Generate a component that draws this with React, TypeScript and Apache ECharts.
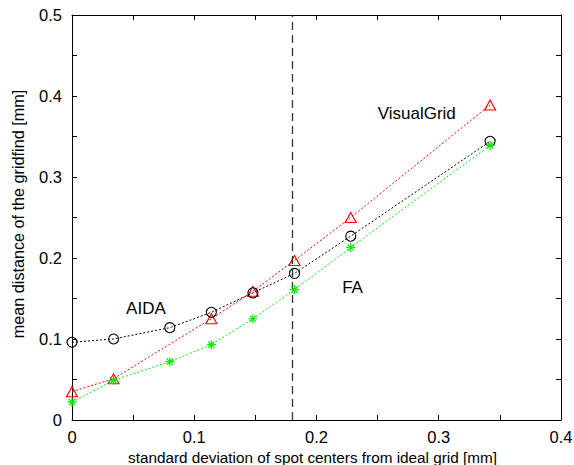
import React, { useEffect, useRef } from "react";
import * as echarts from "echarts";

const aidaX = [0, 0.034, 0.08, 0.114, 0.148, 0.182, 0.228, 0.342];
const aidaY = [0.096, 0.1, 0.114, 0.133, 0.157, 0.181, 0.227, 0.344];
const vgX = [0, 0.034, 0.114, 0.148, 0.182, 0.228, 0.342];
const vgY = [0.035, 0.051, 0.125, 0.159, 0.197, 0.25, 0.389];
const faX = [0, 0.034, 0.08, 0.114, 0.148, 0.182, 0.228, 0.342];
const faY = [0.022, 0.049, 0.072, 0.093, 0.125, 0.161, 0.213, 0.339];
const thresholdX = 0.182;
const xTickLabels = ["0", "0.1", "0.2", "0.3", "0.4"];
const yTickLabels = ["0", "0.1", "0.2", "0.3", "0.4", "0.5"];
const labels = [
  { text: "AIDA", x: 0.0605, y: 0.138 },
  { text: "VisualGrid", x: 0.282, y: 0.378 },
  { text: "FA", x: 0.2295, y: 0.163 },
];
const xTitle = "standard deviation of spot centers from ideal grid [mm]";
const yTitle = "mean distance of the gridfind [mm]";

const FONT = "'Liberation Sans', Arial, Helvetica, sans-serif";
const ASTERISK = "path://M5,0V10M0,5H10M1.5,1.5L8.5,8.5M1.5,8.5L8.5,1.5";

function zip(xs: number[], ys: number[]) {
  return xs.map((x, i) => [x, ys[i]]);
}

export default function App() {
  const ref = useRef<HTMLDivElement>(null);
  useEffect(() => {
    if (!ref.current) return;
    const chart = echarts.init(ref.current, undefined, { renderer: "svg" });
    const fmt = (list: string[]) => (v: number) => {
      const s = String(Math.round(v * 100) / 100);
      return list.includes(s) ? s : "";
    };
    const axisCommon = {
      axisLine: { show: true, onZero: false, lineStyle: { color: "#000", width: 1 } },
      axisTick: { show: true, inside: true, length: 5, lineStyle: { color: "#000" } },
      splitLine: { show: false },
    };
    chart.setOption({
      animation: false,
      backgroundColor: "#fff",
      textStyle: { fontFamily: FONT },
      grid: [{ left: 72, right: 13, top: 15, bottom: 45, containLabel: false, outerBoundsMode: "none" }],
      graphic: [
        {
          type: "text",
          x: 18,
          y: 214,
          rotation: Math.PI / 2,
          style: {
            text: yTitle,
            fill: "#000",
            font: `16.2px ${FONT}`,
            textAlign: "center",
            textVerticalAlign: "middle",
          },
        },
      ],
      xAxis: [
        {
          type: "value",
          min: 0,
          max: 0.4,
          interval: 0.05,
          position: "bottom",
          ...axisCommon,
          axisLabel: {
            formatter: fmt(xTickLabels),
            color: "#000",
            fontSize: 16.5,
            fontFamily: FONT,
            margin: 8,
            showMaxLabel: true,
          },
          name: xTitle,
          nameLocation: "middle",
          nameGap: 29,
          nameTextStyle: { color: "#000", fontSize: 15.3, fontFamily: FONT, padding: [0, 0, 0, -8] },
        },
        {
          type: "value",
          min: 0,
          max: 0.4,
          interval: 0.05,
          position: "top",
          ...axisCommon,
          axisLabel: { show: false },
        },
      ],
      yAxis: [
        {
          type: "value",
          min: 0,
          max: 0.5,
          interval: 0.05,
          position: "left",
          ...axisCommon,
          axisLabel: {
            formatter: fmt(yTickLabels),
            color: "#000",
            fontSize: 16.5,
            fontFamily: FONT,
            margin: 10,
          },
        },
        {
          type: "value",
          min: 0,
          max: 0.5,
          interval: 0.05,
          position: "right",
          ...axisCommon,
          axisLabel: { show: false },
        },
      ],
      series: [
        {
          name: "VisualGrid",
          type: "line",
          data: zip(vgX, vgY),
          symbol: "triangle",
          symbolSize: [11, 10],
          lineStyle: { color: "#ff0000", width: 1, type: [2, 2] },
          itemStyle: { color: "rgba(0,0,0,0)", borderColor: "#ff0000", borderWidth: 1.1 },
          z: 3,
        },
        {
          name: "AIDA",
          type: "line",
          data: zip(aidaX, aidaY),
          symbol: "circle",
          symbolSize: 10,
          lineStyle: { color: "#000", width: 1, type: [2, 2] },
          itemStyle: { color: "rgba(0,0,0,0)", borderColor: "#000", borderWidth: 1.1 },
          z: 4,
          markLine: {
            silent: true,
            symbol: "none",
            label: { show: false },
            lineStyle: { color: "#333", width: 1.3, type: [8, 5] },
            data: [{ xAxis: thresholdX }],
          },
        },
        {
          name: "FA",
          type: "line",
          data: zip(faX, faY),
          symbol: ASTERISK,
          symbolSize: 9,
          lineStyle: { color: "#00ee00", width: 1, type: [2, 2] },
          itemStyle: { color: "rgba(0,0,0,0)", borderColor: "#00ee00", borderWidth: 1.2 },
          z: 5,
        },
        {
          name: "labels",
          type: "scatter",
          data: labels.map((l) => ({ value: [l.x, l.y], name: l.text })),
          symbolSize: 0,
          itemStyle: { color: "#000", opacity: 1 },
          label: {
            show: true,
            position: "inside",
            formatter: (p: any) => p.name,
            color: "#000",
            fontSize: 17,
            fontFamily: FONT,
            textBorderWidth: 0,
            opacity: 1,
          },
          silent: true,
          z: 6,
        },
      ],
    });
    return () => chart.dispose();
  }, []);
  return <div ref={ref} style={{ width: 574, height: 465, position: "absolute", left: 0, top: 0 }} />;
}
